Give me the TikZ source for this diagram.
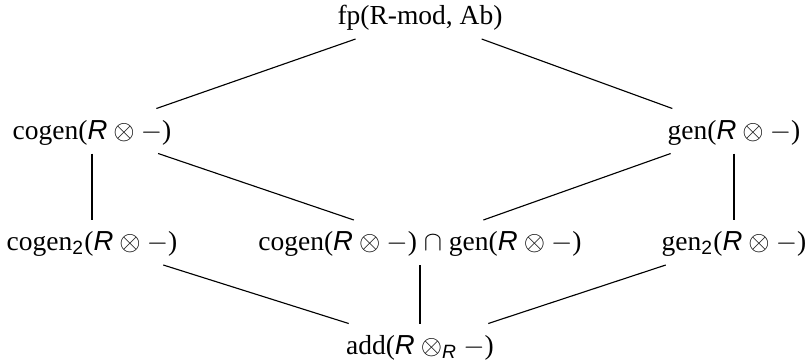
\documentclass[tikz,border=0pt]{standalone}
\usepackage{amsmath}
\usepackage{fontspec}
\setmainfont{Liberation Serif}
\newfontfamily\rsans{Liberation Sans}
\newcommand\RR{\text{\rsans\itshape R}}
\newcommand\two{\text{\rsans 2}}
\begin{document}
\begin{tikzpicture}[x=0.4pt,y=-0.4pt,
  lat/.style={font=\fontsize{11}{13}\selectfont, text height=9.8pt, text depth=3.4pt, inner sep=2.4pt, outer sep=0pt},
  edge/.style={line width=0.45pt}]
\useasboundingbox (0,0) rectangle (809,362);
\node[lat] (fp) at (420,16.5) {fp(R-mod, Ab)};
\node[lat] (cg) at (92,131) {cogen($\RR\otimes -$)};
\node[lat] (g) at (734,131) {gen($\RR\otimes -$)};
\node[lat] (cg2) at (92,242.5) {cogen$_{\two}$($\RR\otimes -$)};
\node[lat] (m) at (420,242.5) {cogen($\RR\otimes -$) $\cap$ gen($\RR\otimes -$)};
\node[lat] (g2) at (734,242.5) {gen$_{\two}$($\RR\otimes -$)};
\node[lat] (add) at (420,346) {add($\RR\otimes_{\RR} -$)};
\draw[edge] (fp) -- (cg);
\draw[edge] (fp) -- (g);
\draw[edge] (cg) -- (cg2);
\draw[edge] (cg) -- (m);
\draw[edge] (g) -- (m);
\draw[edge] (g) -- (g2);
\draw[edge] (cg2) -- (add);
\draw[edge] (m) -- (add);
\draw[edge] (g2) -- (add);
\end{tikzpicture}
\end{document}
